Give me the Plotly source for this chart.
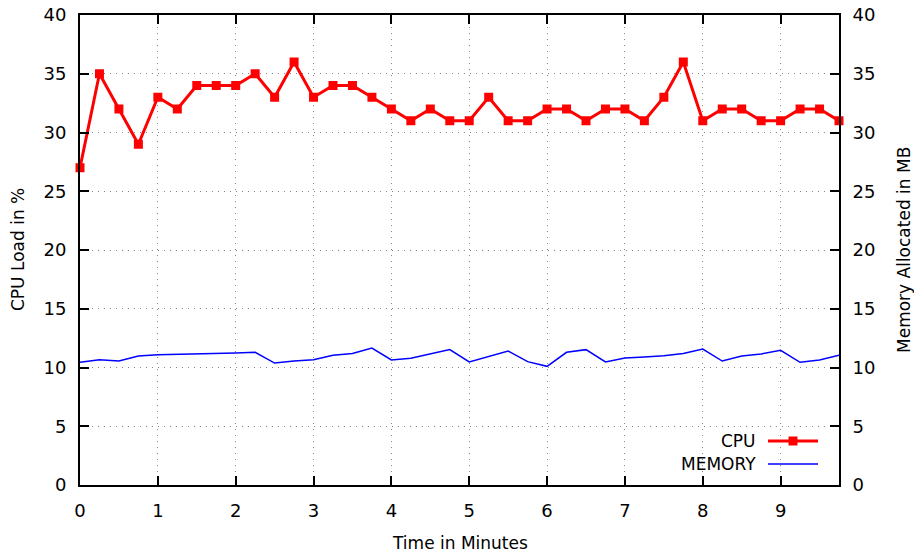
import plotly.graph_objects as go

# Time in minutes (sampled every 15 s)
time_min = [0, 0.25, 0.5, 0.75, 1, 1.25, 1.5, 1.75, 2, 2.25,
            2.5, 2.75, 3, 3.25, 3.5, 3.75, 4, 4.25, 4.5, 4.75,
            5, 5.25, 5.5, 5.75, 6, 6.25, 6.5, 6.75, 7, 7.25,
            7.5, 7.75, 8, 8.25, 8.5, 8.75, 9, 9.25, 9.5, 9.75]

cpu_load = [27, 35, 32, 29, 33, 32, 34, 34, 34, 35,
            33, 36, 33, 34, 34, 33, 32, 31, 32, 31,
            31, 33, 31, 31, 32, 32, 31, 32, 32, 31,
            33, 36, 31, 32, 32, 31, 31, 32, 32, 31]

memory_mb = [10.44, 10.66, 10.55, 10.98, 11.09, 11.11, 11.14, 11.18, 11.23, 11.3,
             10.38, 10.55, 10.66, 11.04, 11.2, 11.66, 10.64, 10.78, 11.15, 11.52,
             10.47, 10.95, 11.4, 10.5, 10.1, 11.29, 11.52, 10.47, 10.8, 10.9,
             11.0, 11.2, 11.57, 10.55, 10.98, 11.15, 11.46, 10.44, 10.64, 11.04]

x_ticks = [0, 1, 2, 3, 4, 5, 6, 7, 8, 9]
y_ticks = [0, 5, 10, 15, 20, 25, 30, 35, 40]

FONT = "DejaVu Sans"
RED = "#ff0000"
BLUE = "#0000ff"
GRID = "#888888"

fig = go.Figure()
fig.add_trace(go.Scatter(
    x=time_min, y=cpu_load, name="CPU", mode="lines+markers",
    line=dict(color=RED, width=3),
    marker=dict(symbol="square", size=9, color=RED),
    yaxis="y", showlegend=False, cliponaxis=False))
fig.add_trace(go.Scatter(
    x=time_min, y=memory_mb, name="MEMORY", mode="lines",
    line=dict(color=BLUE, width=1.5),
    yaxis="y2", showlegend=False))

axis_common = dict(
    showline=True, linecolor="black", linewidth=2,
    ticks="inside", ticklen=9, tickwidth=2, tickcolor="black",
    tickfont=dict(family=FONT, size=18, color="black"),
    zeroline=False, automargin=False,
)

fig.update_layout(
    width=914, height=558,
    margin=dict(l=80, r=75, t=15, b=73, autoexpand=False),
    paper_bgcolor="white", plot_bgcolor="white",
    font=dict(family=FONT, size=17, color="black"),
    xaxis=dict(range=[0, 9.75], tickvals=x_ticks, mirror="ticks",
               showgrid=True, gridcolor=GRID, griddash="1px,5px", gridwidth=1,
               ticklabelstandoff=8, **axis_common),
    yaxis=dict(range=[0, 40], tickvals=y_ticks, mirror=True,
               showgrid=True, gridcolor=GRID, griddash="1px,5px", gridwidth=1,
               ticklabelstandoff=8, **axis_common),
    yaxis2=dict(range=[0, 40], tickvals=y_ticks, overlaying="y", side="right",
                showgrid=False, ticklabelstandoff=8, **axis_common),
)

W = 759.0
H = 470.0
def px(xp):
    return (xp - 80) / W
def py(yp):
    return (485 - yp) / H

ann_font = dict(family=FONT, size=17, color="black")
fig.add_annotation(text="Time in Minutes", x=px(460), y=py(543), xref="paper", yref="paper",
                   showarrow=False, xanchor="center", yanchor="middle", font=ann_font)
fig.add_annotation(text="CPU Load in %", x=px(18), y=py(250), xref="paper", yref="paper",
                   showarrow=False, xanchor="center", yanchor="middle", textangle=-90, font=ann_font)
fig.add_annotation(text="Memory Allocated in MB", x=px(904), y=py(250), xref="paper", yref="paper",
                   showarrow=False, xanchor="center", yanchor="middle", textangle=-90, font=ann_font)

# Legend (gnuplot style: text on the left, sample on the right)
fig.add_annotation(text="CPU", x=px(758), y=py(441), xref="paper", yref="paper",
                   showarrow=False, xanchor="right", yanchor="middle", font=ann_font)
fig.add_annotation(text="MEMORY", x=px(758), y=py(464), xref="paper", yref="paper",
                   showarrow=False, xanchor="right", yanchor="middle", font=ann_font)
fig.add_shape(type="line", xref="paper", yref="paper", x0=px(768), x1=px(818),
              y0=py(441), y1=py(441), line=dict(color=RED, width=3))
fig.add_shape(type="rect", xref="paper", yref="paper", xsizemode="pixel", ysizemode="pixel",
              xanchor=px(793), yanchor=py(441), x0=-4.5, x1=4.5, y0=-4.5, y1=4.5,
              line=dict(width=0), fillcolor=RED)
fig.add_shape(type="line", xref="paper", yref="paper", x0=px(768), x1=px(818),
              y0=py(464), y1=py(464), line=dict(color=BLUE, width=1.5))

fig.write_html("out.html")
